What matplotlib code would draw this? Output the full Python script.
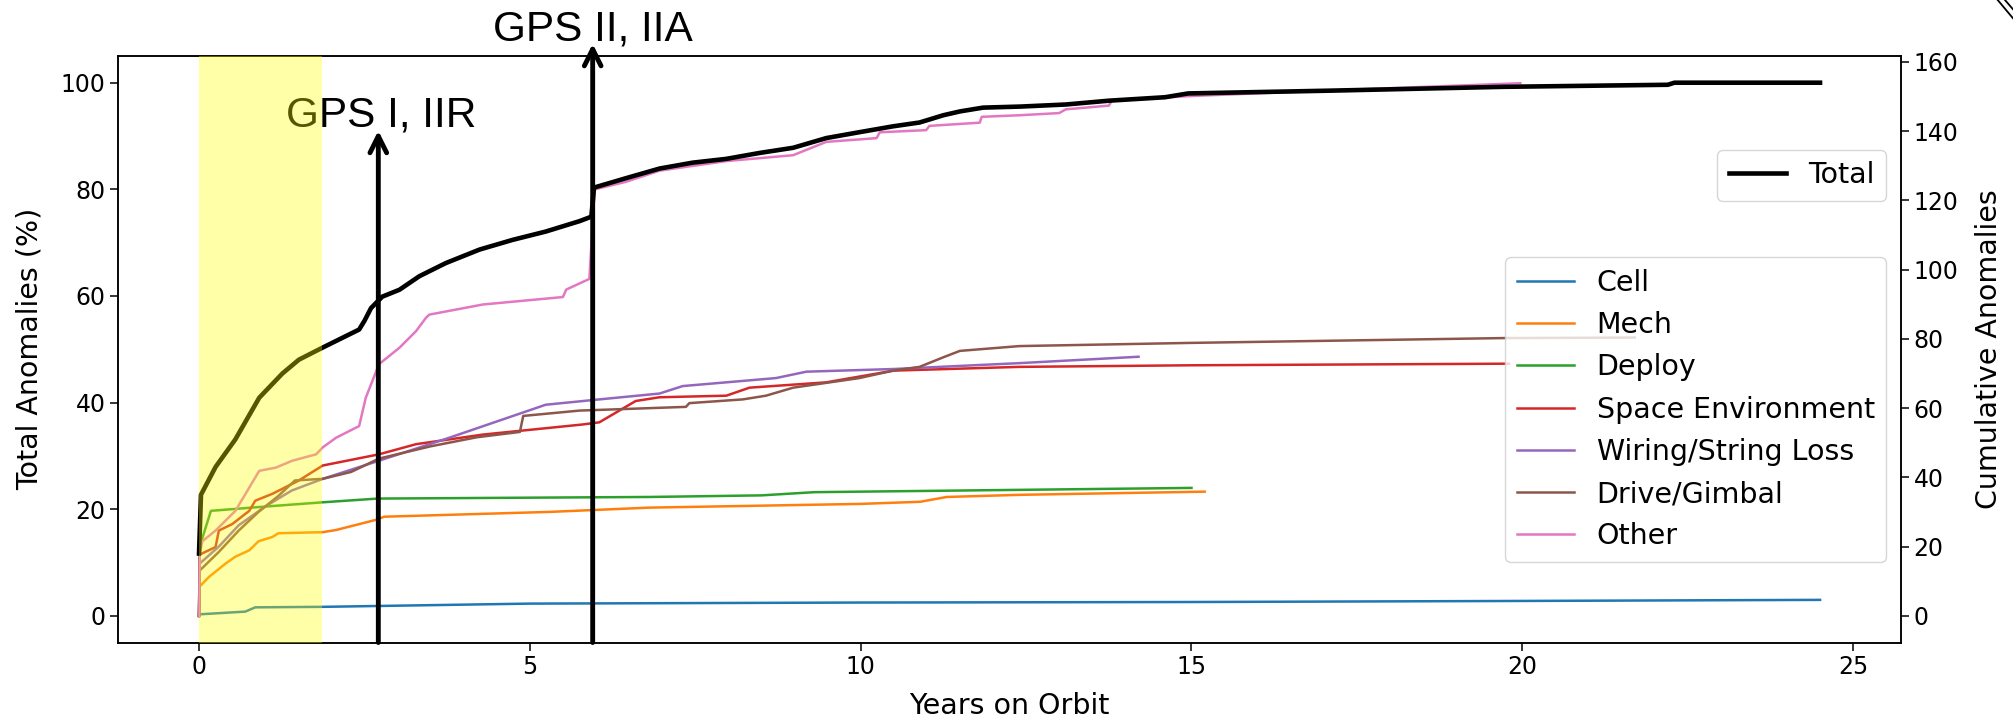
import matplotlib
matplotlib.use("Agg")
import matplotlib.pyplot as plt
from matplotlib.lines import Line2D

# cumulative anomalies per category, % of total
cell_x = [0, 0.02, 0.7, 0.85, 1.9, 5.0, 10.0, 15.0, 20.0, 24.5]
cell_y = [0, 0.3, 0.8, 1.6, 1.7, 2.3, 2.5, 2.6, 2.8, 3.0]

mech_x = [0, 0.01, 0.15, 0.4, 0.55, 0.76, 0.9, 1.11, 1.2, 1.87, 2.07, 2.67, 2.8, 5.3, 6.8, 10.0, 10.9, 11.3, 12.4, 15.2]
mech_y = [0, 5.5, 7.3, 9.8, 11.1, 12.3, 14.0, 14.8, 15.5, 15.7, 16.1, 18.0, 18.6, 19.5, 20.3, 21.0, 21.4, 22.3, 22.7, 23.3]

deploy_x = [0, 0.01, 0.18, 1.0, 1.87, 2.7, 6.8, 8.5, 9.3, 15.0]
deploy_y = [0, 13.0, 19.7, 20.5, 21.3, 22.0, 22.3, 22.6, 23.2, 24.0]

space_x = [0, 0.01, 0.25, 0.3, 0.5, 0.76, 0.85, 1.11, 1.51, 1.87, 2.72, 3.28, 4.29, 5.8, 6.05, 6.6, 6.96, 7.97, 8.32, 9.48, 10.5, 12.4, 15.0, 19.8]
space_y = [0, 11.5, 12.9, 16.0, 17.2, 19.7, 21.6, 22.9, 25.4, 28.2, 30.3, 32.2, 34.0, 35.9, 36.3, 40.3, 41.0, 41.3, 42.8, 43.8, 46.0, 46.7, 47.0, 47.3]

wiring_x = [0, 0.01, 0.3, 0.6, 1.0, 1.4, 1.87, 2.72, 3.78, 5.24, 6.05, 6.96, 7.31, 8.72, 9.18, 10.5, 12.4, 14.2]
wiring_y = [0, 9.8, 13.0, 17.0, 20.5, 23.5, 25.7, 29.1, 33.4, 39.6, 40.6, 41.7, 43.1, 44.6, 45.8, 46.3, 47.4, 48.6]

drive_x = [0, 0.01, 0.3, 0.6, 0.9, 1.2, 1.45, 1.87, 2.3, 2.72, 3.5, 4.2, 4.85, 4.9, 5.75, 7.36, 7.41, 8.22, 8.57, 8.98, 9.98, 10.49, 10.89, 11.25, 11.5, 12.4, 15.0, 19.7, 21.7]
drive_y = [0, 8.5, 12.0, 16.0, 19.5, 22.5, 25.4, 25.7, 27.0, 29.5, 31.8, 33.5, 34.5, 37.5, 38.5, 39.2, 39.9, 40.6, 41.3, 42.8, 44.6, 46.0, 46.7, 48.5, 49.7, 50.6, 51.2, 52.1, 52.2]

other_x = [0, 0.01, 0.05, 0.25, 0.55, 0.91, 1.16, 1.41, 1.77, 1.87, 2.07, 2.42, 2.52, 2.72, 3.03, 3.28, 3.43, 3.48, 4.29, 5.5, 5.55, 5.9,
           5.98, 6.45, 6.96, 7.97, 8.98, 9.48, 10.24, 10.29, 10.99, 11.04, 11.8, 11.83, 12.41, 13.0, 13.1, 13.75, 13.8, 15.0, 17.0, 19.97]
other_y = [0, 11.6, 14.0, 16.0, 19.7, 27.2, 27.8, 29.1, 30.3, 31.6, 33.4, 35.6, 40.9, 47.2, 50.3, 53.4, 55.9, 56.5, 58.4, 59.8, 61.2, 63.2,
           80.0, 81.4, 83.5, 85.3, 86.4, 88.9, 89.6, 90.7, 91.1, 91.9, 92.5, 93.6, 93.9, 94.3, 95.0, 95.7, 96.7, 97.5, 98.5, 99.9]

# total, cumulative count (right axis)
total_x = [0, 0.03, 0.25, 0.55, 0.91, 1.26, 1.51, 1.87, 2.42, 2.5, 2.6, 2.77, 3.03, 3.33, 3.73, 4.24, 4.74, 5.24, 5.75, 5.93,
           5.97, 6.45, 6.96, 7.46, 7.97, 8.47, 8.98, 9.48, 9.98, 10.49, 10.89, 11.25, 11.5, 11.85, 12.41, 13.1, 13.75, 14.6,
           14.95, 17.1, 19.7, 22.2, 22.3, 24.5]
total_n = [18, 35, 43, 51, 63, 70, 74, 77.5, 82.7, 85.2, 88.9, 92.2, 94.2, 98.1, 101.9, 105.8, 108.6, 111, 114, 115.3,
           123.7, 126.4, 129.2, 130.9, 132, 133.7, 135.2, 138, 139.7, 141.4, 142.5, 144.6, 145.7, 146.8, 147.1, 147.7, 148.8, 149.8,
           150.9, 151.7, 152.8, 153.4, 154, 154]

series = [("Cell", cell_x, cell_y), ("Mech", mech_x, mech_y), ("Deploy", deploy_x, deploy_y),
          ("Space Environment", space_x, space_y), ("Wiring/String Loss", wiring_x, wiring_y),
          ("Drive/Gimbal", drive_x, drive_y), ("Other", other_x, other_y)]

fig = plt.figure(figsize=(20.13, 7.23), dpi=100)
ax = fig.add_axes([0.0586, 0.1113, 0.8858, 0.8112])
ax2 = ax.twinx()

for name, xs, ys in series:
    ax.plot(xs, ys, lw=1.8, label=name)

ax2.plot(total_x, total_n, color="black", lw=3.3, label="Total")

ax.set_xlim(-1.225, 25.725)
ax.set_ylim(-5, 105)
ax2.set_ylim(-7.7, 161.7)
ax.set_yticks([0, 20, 40, 60, 80, 100])
ax2.set_yticks([0, 20, 40, 60, 80, 100, 120, 140, 160])

tick_fs = 17
lab_fs = 20.5
for a in (ax, ax2):
    a.tick_params(labelsize=tick_fs, length=5.5, width=1.1)
    for s in a.spines.values():
        s.set_linewidth(1.1)
ax.set_xlabel("Years on Orbit", fontsize=lab_fs, labelpad=9)
ax.set_ylabel("Total Anomalies (%)", fontsize=lab_fs, labelpad=12)
ax2.set_ylabel("Cumulative Anomalies", fontsize=lab_fs, labelpad=12)

ax.legend(loc="upper right", bbox_to_anchor=(0.9916, 0.6566), borderaxespad=0, fontsize=lab_fs)
ax2.legend(loc="upper right", bbox_to_anchor=(0.9916, 0.8397), borderaxespad=0, fontsize=lab_fs)

# launch-era markers
arrow = dict(arrowstyle="->", lw=3.5, color="black", shrinkA=0, shrinkB=0, mutation_scale=30)
ax.annotate("", xy=(2.71, 91.0), xytext=(2.71, -5), arrowprops=arrow, annotation_clip=False, zorder=5)
ax.annotate("", xy=(5.95, 107.3), xytext=(5.95, -5), arrowprops=arrow, annotation_clip=False, zorder=5)
ax.text(2.76, 91.8, "GPS I, IIR", ha="center", va="baseline", fontsize=30.5, family="Liberation Sans", clip_on=False)
ax.text(5.95, 108.0, "GPS II, IIA", ha="center", va="baseline", fontsize=30.5, family="Liberation Sans", clip_on=False)

# early-life highlight drawn over everything
ax2.axvspan(0, 1.86, color="yellow", alpha=0.34, lw=0, zorder=10)

fig.add_artist(Line2D([1997.7 / 2013, 1.0], [1.0, 1 - 18.3 / 723], color="black", lw=1.3))
fig.add_artist(Line2D([2005 / 2013, 1.0], [1.0, 1 - 9.3 / 723], color="black", lw=1.3))

fig.savefig("out.png", dpi=100)
